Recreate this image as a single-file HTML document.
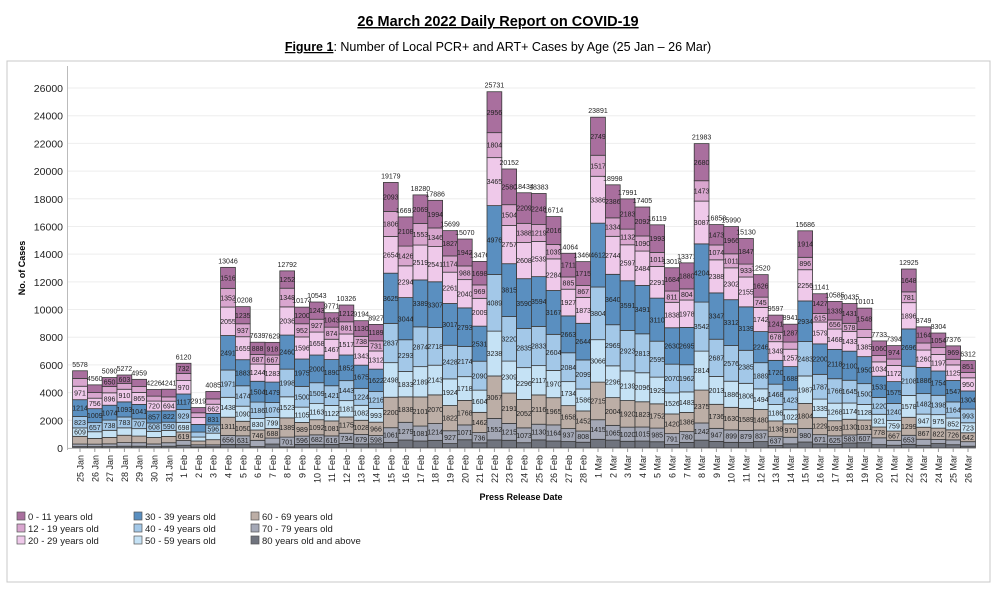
<!DOCTYPE html>
<html><head><meta charset="utf-8">
<style>
html,body{margin:0;padding:0;background:#fff;width:996px;height:589px;overflow:hidden;font-family:"Liberation Sans",sans-serif;}
svg{display:block}
</style></head>
<body>
<svg id="chart" width="996" height="589" xmlns="http://www.w3.org/2000/svg">
<text x="498" y="26" text-anchor="middle" font-size="14.5" font-weight="bold" text-decoration="underline" fill="#000">26 March 2022 Daily Report on COVID-19</text>
<text x="498" y="51" text-anchor="middle" font-size="12.5" fill="#000"><tspan font-weight="bold" text-decoration="underline">Figure 1</tspan>: Number of Local PCR+ and ART+ Cases by Age (25 Jan – 26 Mar)</text>
<rect x="7" y="61" width="983" height="521" fill="none" stroke="#c8c8c8" stroke-width="1"/>
<g id="grid"></g>
<g id="bars"></g>
<g id="axes"></g>
<text transform="translate(25,268) rotate(-90)" text-anchor="middle" font-size="9" font-weight="bold">No. of Cases</text>
<text x="521" y="500" text-anchor="middle" font-size="9" font-weight="bold">Press Release Date</text>
<g id="legend"></g>
</svg>
<script>
const days = ["25 Jan","26 Jan","27 Jan","28 Jan","29 Jan","30 Jan","31 Jan","1 Feb","2 Feb","3 Feb","4 Feb","5 Feb","6 Feb","7 Feb","8 Feb","9 Feb","10 Feb","11 Feb","12 Feb","13 Feb","14 Feb","15 Feb","16 Feb","17 Feb","18 Feb","19 Feb","20 Feb","21 Feb","22 Feb","23 Feb","24 Feb","25 Feb","26 Feb","27 Feb","28 Feb","1 Mar","2 Mar","3 Mar","4 Mar","5 Mar","6 Mar","7 Mar","8 Mar","9 Mar","10 Mar","11 Mar","12 Mar","13 Mar","14 Mar","15 Mar","16 Mar","17 Mar","18 Mar","19 Mar","20 Mar","21 Mar","22 Mar","23 Mar","24 Mar","25 Mar","26 Mar"];
const groups = ["80 years old and above","70 - 79 years old","60 - 69 years old","50 - 59 years old","40 - 49 years old","30 - 39 years old","20 - 29 years old","12 - 19 years old","0 - 11 years old"];
const age80 = [100,100,100,130,130,100,130,200,80,90,256,249,100,286,85,261,269,257,331,295,300,405,576,505,553,319,596,377,584,561,383,587,505,465,416,627,570,486,501,453,248,403,566,472,408,395,462,180,299,432,294,252,361,382,244,201,266,197,320,236,131];
const age70 = [186,178,200,260,253,191,251,337,150,139,656,631,454,433,701,596,682,616,734,679,598,1061,1279,1081,1214,927,1071,736,1552,1215,1073,1130,1164,937,808,1415,1065,1020,1015,985,791,780,1242,947,899,879,837,637,476,980,671,625,583,607,492,353,653,435,292,351,326];
const age60 = [557,413,461,531,479,467,456,619,275,372,1311,1050,746,688,1389,989,1092,1081,1175,1028,966,2200,1838,2101,2070,1822,1768,1462,3067,2191,2052,2116,1965,1658,1452,2715,2004,1920,1823,1752,1420,1386,2375,1736,1630,1589,1480,1138,970,1804,1229,1093,1130,1031,778,667,1299,867,822,726,642];
const age50 = [609,484,517,535,536,445,437,698,286,471,1438,1090,830,799,1523,1105,1163,1122,1181,1082,993,2498,1833,2189,2143,1924,1718,1604,3238,2309,2296,2117,1970,1734,1586,3066,2296,2139,2096,1929,1526,1483,2814,2013,1886,1808,1494,1186,1022,1987,1339,1268,1174,1128,921,759,1578,947,975,852,723];
const age40 = [823,657,738,783,707,608,590,929,361,596,1971,1474,1186,1076,1998,1500,1509,1421,1443,1224,1216,2837,2293,2874,2718,2428,2174,2090,4089,3220,2835,2833,2604,2084,2099,3804,2969,2923,2813,2595,2070,1962,3542,2687,2576,2385,1889,1468,1423,2483,1787,1766,1645,1500,1220,1240,2108,1482,1398,1164,993];
const age30 = [1214,1009,1074,1093,1041,857,822,1117,552,831,2491,1883,1504,1479,2460,1975,2000,1890,1852,1675,1622,3625,3044,3389,3307,3017,2793,2531,4976,3815,3590,3594,3167,2663,2644,4612,3640,3591,3491,3110,2630,2695,4204,3347,3312,3139,2246,1720,1688,2934,2200,2118,2100,1950,1531,1575,2696,1886,1754,1547,1304];
const age20 = [971,756,896,910,865,720,694,970,491,662,2055,1659,1244,1283,2036,1596,1658,1467,1517,1343,1312,2654,2294,2519,2541,2261,2040,2009,3465,2757,2608,2539,2284,1927,1873,3386,2744,2597,2484,2291,1838,1978,3087,2388,2302,2155,1742,1349,1257,2256,1579,1468,1433,1385,1034,1172,1896,1260,1197,1125,950];
const age12 = [562,406,454,427,424,358,311,518,350,383,1352,937,687,667,1348,952,927,874,881,738,731,1806,1426,1553,1346,1174,988,969,1804,1504,1388,1219,1039,885,867,1517,1334,1132,1090,1011,811,804,1473,1074,1011,933,745,678,519,896,615,656,578,570,453,453,781,511,492,406,392];
const age0 = [556,557,650,603,524,480,550,732,374,541,1516,1235,888,918,1252,1200,1243,1043,1212,1130,1189,2093,2108,2069,1994,1827,1942,1698,2956,2580,2209,2248,2016,1711,1715,2749,2386,2183,2092,1993,1684,1880,2680,1473,1966,1847,1626,1241,1287,1914,1427,1339,1431,1548,1060,974,1648,1164,1054,969,851];
const totals = [5578,4560,5090,5272,4959,4226,4241,6120,2919,4085,13046,10208,7639,7629,12792,10174,10543,9771,10326,9194,8927,19179,16691,18280,17886,15699,15070,13476,25731,20152,18434,18383,16714,14064,13460,23891,18998,17991,17405,16119,13018,13371,21983,16858,15990,15130,12520,9597,8941,15686,11141,10585,10435,10101,7733,7394,12925,8749,8304,7376,6312];
const yTicks = [0,2000,4000,6000,8000,10000,12000,14000,16000,18000,20000,22000,24000,26000];

const series = [age80,age70,age60,age50,age40,age30,age20,age12,age0];
const colors = ["#70747e","#a4a8b6","#bcaea6","#c5e2f5","#a3c8e8","#5a8fc0","#efc9ea","#d9a6cf","#a96f9e"];
const slugs = ["80-plus","70-79","60-69","50-59","40-49","30-39","20-29","12-19","0-11"];
const NS="http://www.w3.org/2000/svg";
const X0=72.6, X1=975.4, Y0=448, YTOP=88, VTOP=26000;
const pitch=(X1-X0)/days.length;
function xPos(i){return X0+i*pitch;}
function yPos(v){return Y0-(v/VTOP)*(Y0-YTOP);}
function mk(tag,attrs,parent){const e=document.createElementNS(NS,tag);for(const k in attrs)e.setAttribute(k,attrs[k]);parent.appendChild(e);return e;}

const grid=document.getElementById('grid');
const axes=document.getElementById('axes');
yTicks.forEach(t=>{
  const y=yPos(t);
  const gl=mk('line',{x1:67,x2:X1,y1:y,y2:y,stroke:'#eeeeee','stroke-width':1},grid);
  
  
  const tx=mk('text',{x:63,y:y+4,'text-anchor':'end','font-size':10.5,fill:'#222'},axes);
  tx.textContent=t;
  
  
});
const ya=mk('line',{x1:67.5,x2:67.5,y1:66,y2:Y0+2,stroke:'#bbb','stroke-width':1},axes);


const xa=mk('line',{x1:67,x2:X1,y1:Y0+0.5,y2:Y0+0.5,stroke:'#bbb','stroke-width':1},axes);



const bars=document.getElementById('bars');
days.forEach((d,i)=>{
  const x=xPos(i);
  let cum=0;
  series.forEach((s,k)=>{
    const v=s[i];
    const yt=yPos(cum+v), yb=yPos(cum);
    const r=mk('rect',{x:x,y:yt,width:pitch,height:Math.max(0,yb-yt),fill:colors[k],stroke:'#3a3a3a','stroke-width':0.8},bars);
    
    
    if(yb-yt>8 && k>0){
      const t=mk('text',{x:x+pitch/2,y:(yt+yb)/2+2.6,'text-anchor':'middle','font-size':7,fill:'#222'},bars);
      t.textContent=v;
      
      
    }
    cum+=v;
  });
  const tl=mk('text',{x:x+pitch/2,y:yPos(cum)-4,'text-anchor':'middle','font-size':7,fill:'#222'},bars);
  tl.textContent=totals[i];
  
  
  const tk=mk('line',{x1:x+pitch/2,x2:x+pitch/2,y1:Y0,y2:Y0+4,stroke:'#999','stroke-width':1},axes);
  
  
  const xl=mk('text',{transform:`translate(${x+pitch/2+3.5},${Y0+7}) rotate(-90)`,'text-anchor':'end','font-size':9,fill:'#222'},axes);
  xl.textContent=d;
  
  
});

const legend=document.getElementById('legend');
const legOrder=[[8,17,519],[7,17,531],[6,17,543],[5,134,519],[4,134,531],[3,134,543],[2,251,519],[1,251,531],[0,251,543]];
legOrder.forEach(([k,lx,ly])=>{
  const g=mk('g',{},legend);
  
  
  mk('rect',{x:lx,y:ly-7,width:8,height:8,fill:colors[k],stroke:'#555','stroke-width':0.7},g);
  const t=mk('text',{x:lx+11,y:ly+1,'font-size':9.5,fill:'#222'},g);
  t.textContent=groups[k];
});
</script>
</body></html>
